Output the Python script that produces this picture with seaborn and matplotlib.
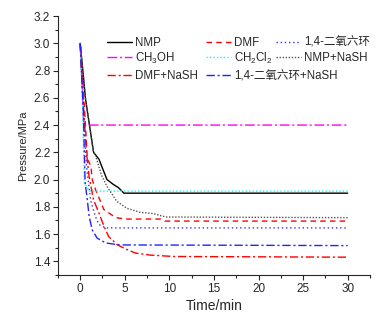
import pandas as pd
import matplotlib
matplotlib.use('Agg')
import matplotlib.pyplot as plt
from matplotlib.ticker import MultipleLocator
from matplotlib.lines import Line2D
import seaborn as sns

# pressure curves (time in min, pressure in MPa)
t_nmp = [0, 0.6, 1.5, 2.1, 3.0, 3.7, 4.3, 4.9, 30]
p_nmp = [3.0, 2.59, 2.2, 2.15, 2.0, 1.965, 1.94, 1.90, 1.90]

t_dmf = [0, 0.5, 0.8, 1.2, 1.35, 1.7, 2.65, 4.0, 5.1, 9.0, 9.5, 30]
p_dmf = [3.0, 2.5, 2.15, 2.10, 2.0, 1.93, 1.78, 1.72, 1.71, 1.71, 1.695, 1.695]

t_diox = [0, 0.4, 0.7, 1.16, 1.7, 2.1, 2.85, 30]
p_diox = [3.0, 2.5, 2.1, 1.85, 1.73, 1.67, 1.645, 1.645]

t_meoh = [0, 0.4, 30]
p_meoh = [3.0, 2.4, 2.4]

t_dcm = [0, 0.3, 0.45, 1.0, 30]
p_dcm = [3.0, 2.5, 1.98, 1.915, 1.915]

t_nmp_nash = [0, 0.6, 1.5, 1.7, 2.4, 3.0, 4.1, 5.2, 6.7, 8.2, 9.6, 30]
p_nmp_nash = [3.0, 2.59, 2.2, 2.18, 2.03, 1.95, 1.84, 1.79, 1.76, 1.75, 1.725, 1.72]

t_dmf_nash = [0, 0.4, 0.7, 1.0, 1.5, 2.1, 2.65, 3.2, 4.2, 5.1, 6.2, 7.9, 10.5, 30]
p_dmf_nash = [3.0, 2.5, 2.2, 2.02, 1.85, 1.755, 1.66, 1.58, 1.52, 1.49, 1.46, 1.445, 1.435, 1.43]

t_diox_nash = [0, 0.35, 0.55, 0.8, 1.0, 1.35, 1.9, 2.85, 4.3, 30]
p_diox_nash = [3.0, 2.5, 1.98, 1.85, 1.73, 1.63, 1.57, 1.535, 1.52, 1.515]

labels = ['NMP', 'DMF', '1,4-二氧六环', 'CH$_3$OH', 'CH$_2$Cl$_2$',
          'NMP+NaSH', 'DMF+NaSH', '1,4-二氧六环+NaSH']
times = [t_nmp, t_dmf, t_diox, t_meoh, t_dcm, t_nmp_nash, t_dmf_nash, t_diox_nash]
pressures = [p_nmp, p_dmf, p_diox, p_meoh, p_dcm, p_nmp_nash, p_dmf_nash, p_diox_nash]

colors = ['black', '#ff0000', '#3333ff', '#ff00ff', '#00ffff', '#555555', '#ff0000', '#2222ff']
dashes = [None, (4, 3), (1, 2), (7, 2, 1.5, 2), (1, 1.5), (1, 1.2),
          (6, 2, 1.5, 2), (6, 2, 1.5, 2)]

# legend layout (3 columns, entries in row order)
leg_x = [0.157, 0.473, 0.698]
leg_y = [0.897, 0.838, 0.768]


def line_style(d):
    if d is None:
        return {'linestyle': '-'}
    return {'linestyle': (0, d)}


def main():
    sns.set_style('ticks')
    plt.rcParams['font.family'] = ['Liberation Sans', 'Noto Sans CJK SC', 'DejaVu Sans']
    plt.rcParams['mathtext.fontset'] = 'custom'
    plt.rcParams['mathtext.rm'] = 'Liberation Sans'
    plt.rcParams['mathtext.it'] = 'Liberation Sans:italic'
    plt.rcParams['lines.scale_dashes'] = False

    fig = plt.figure(figsize=(3.81, 3.23), dpi=100)
    ax = fig.add_axes([0.152, 0.149, 0.819, 0.801])

    handles = []
    for lab, t, p, c, d in zip(labels, times, pressures, colors, dashes):
        df = pd.DataFrame({'Time': t, 'Pressure': p})
        sns.lineplot(data=df, x='Time', y='Pressure', ax=ax, color=c, linewidth=1.0,
                     **line_style(d))
        handles.append(Line2D([], [], color=c, linewidth=1.0, **line_style(d)))

    ax.set_xlim(-2.5, 32.5)
    ax.set_ylim(1.3, 3.2)
    ax.xaxis.set_major_locator(MultipleLocator(5))
    ax.xaxis.set_minor_locator(MultipleLocator(2.5))
    ax.yaxis.set_major_locator(MultipleLocator(0.2))
    ax.yaxis.set_minor_locator(MultipleLocator(0.1))
    ax.tick_params(which='major', direction='out', length=3.5, width=0.8, labelsize=8.5, pad=2)
    ax.tick_params(which='minor', direction='out', length=2, width=0.8)
    sns.despine(ax=ax)
    for s in ['left', 'bottom']:
        ax.spines[s].set_linewidth(0.8)

    ax.set_xlabel('Time/min', fontsize=10, labelpad=3)
    ax.set_ylabel('Pressure/MPa', fontsize=8, labelpad=4)

    # one small legend per entry so the columns line up like the original
    for i, (h, lab) in enumerate(zip(handles, labels)):
        row, col = divmod(i, 3)
        leg = ax.legend([h], [lab], loc='center left', bbox_to_anchor=(leg_x[col], leg_y[row]),
                        frameon=False, fontsize=8.3, handlelength=2.2, handletextpad=0.25,
                        borderpad=0, borderaxespad=0)
        if i < len(labels) - 1:
            ax.add_artist(leg)

    fig.savefig('out.png', dpi=100)


if __name__ == "__main__":
    main()
